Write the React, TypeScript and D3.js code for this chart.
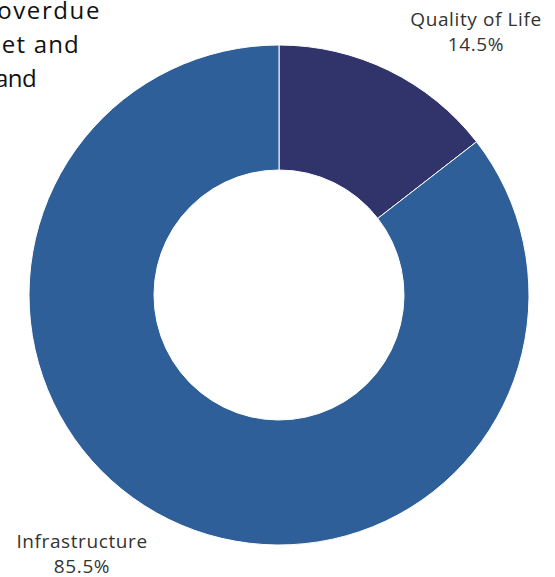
import React, { useEffect, useRef } from 'react';
import * as d3 from 'd3';

// chart data
const categories = ['Quality of Life', 'Infrastructure'];
const shares = [14.5, 85.5];
const colors = ['#31346b', '#2e5f98'];

// title: only the visible part of each line in the original
const titleLines = ['overdue', 'et and', 'and'];
const titleRight = [101, 80, 36];

const W = 555;
const H = 577;

const App: React.FC = () => {
  const svgRef = useRef<SVGSVGElement>(null);

  useEffect(() => {
    if (!svgRef.current) return;
    const svg = d3.select(svgRef.current);
    svg.selectAll('*').remove();

    const cx = 279;
    const cy = 295;
    const outerR = 250;
    const innerR = 125;

    const pie = d3.pie<number>().sort(null).value(d => d);
    const arcs = pie(shares);
    const arc = d3.arc<d3.PieArcDatum<number>>().innerRadius(innerR).outerRadius(outerR);

    const g = svg.append('g').attr('transform', `translate(${cx},${cy})`);

    g.selectAll('path')
      .data(arcs)
      .join('path')
      .attr('d', arc)
      .attr('fill', (_, i) => colors[i])
      .attr('stroke', '#ffffff')
      .attr('stroke-width', 1);

    // labels sit on a circle outside the donut, kept inside the plot vertically
    const labelR = 327;
    const maxDy = 261;
    arcs.forEach((a, i) => {
      const mid = (a.startAngle + a.endAngle) / 2;
      let dy = -Math.cos(mid) * labelR;
      dy = Math.max(-maxDy, Math.min(maxDy, dy));
      const sign = Math.sin(mid) >= 0 ? 1 : -1;
      const dx = sign * Math.sqrt(labelR * labelR - dy * dy);
      const t = g.append('text')
        .attr('text-anchor', 'middle')
        .attr('font-family', '"Open Sans", sans-serif')
        .attr('font-size', 19)
        .attr('letter-spacing', 0.6)
        .attr('fill', '#333333');
      t.append('tspan').attr('x', dx).attr('y', dy - 8).text(categories[i]);
      t.append('tspan').attr('x', dx).attr('y', dy + 17).text(`${shares[i].toFixed(1)}%`);
    });

    // title
    svg.append('g')
      .selectAll('text')
      .data(titleLines)
      .join('text')
      .attr('x', (_, i) => titleRight[i])
      .attr('y', (_, i) => 19 + i * 34)
      .attr('text-anchor', 'end')
      .attr('letter-spacing', (_, i) => (i === 0 ? 1.6 : i === 1 ? 1.2 : -0.6))
      .attr('font-family', '"Open Sans", sans-serif')
      .attr('font-size', 24)
      .attr('fill', '#111111')
      .text(d => d);
  }, []);

  return (
    <svg
      ref={svgRef}
      width={W}
      height={H}
      style={{ position: 'absolute', left: 0, top: 0, background: '#ffffff' }}
    />
  );
};

export default App;
